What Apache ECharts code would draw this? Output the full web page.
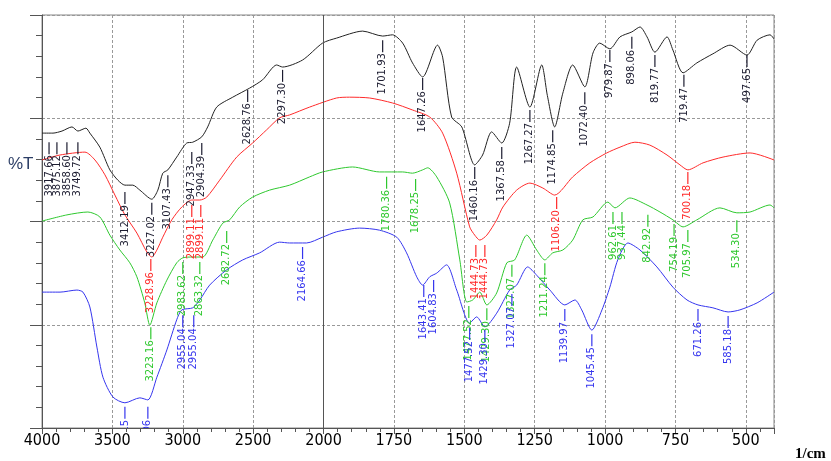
<!DOCTYPE html>
<html>
<head>
<meta charset="utf-8">
<script src="https://cdn.jsdelivr.net/npm/echarts@6/dist/echarts.min.js"></script>
<style>
  html, body { margin: 0; padding: 0; background: #fff; }
  #chart { width: 831px; height: 461px; }
</style>
</head>
<body>
<div id="chart"></div>
<script>
// 光谱数据 (波数 1/cm, 透过率 %T)
const blackWn = [4000,3922,3858,3787,3745,3688,3660,3589,3518,3461,3411,3355,3305,3220,3177,3142,3106,3043,2972,2929,2865,2823,2759,2645,2525,2433,2333,2291,2149,2007,1954,1861,1790,1755,1719,1684,1648,1595,1577,1545,1509,1463,1435,1403,1367,1339,1314,1267,1225,1205,1179,1150,1115,1072,1043,1019,983,947,905,876,851,823,780,759,723,674,617,556,496,460,414,400]
const blackT = [71.4,71.4,71.9,72.9,71.9,72.6,71.4,68.0,62.5,60.0,58.8,58.8,57.6,55.4,57.6,61.7,62.5,65.6,69.0,69.2,70.5,72.9,77.7,80.1,82.3,84.3,87.9,87.4,89.1,93.2,94.4,96.1,94.9,95.2,93.2,88.4,85.0,92.7,89.8,75.3,72.9,63.7,66.1,71.7,69.0,73.8,87.4,77.7,87.9,80.5,72.9,81.1,87.9,82.6,90.8,93.2,91.8,94.7,95.9,97.1,94.7,91.0,94.7,91.5,86.0,88.4,90.6,92.7,90.3,93.9,95.2,94.2]

const redWn = [4000,3872,3695,3624,3553,3482,3411,3326,3255,3220,3184,3142,3078,3007,2936,2879,2830,2738,2617,2504,2404,2312,2241,2099,1954,1908,1836,1755,1684,1623,1577,1527,1481,1463,1445,1420,1385,1363,1314,1267,1221,1179,1115,1054,994,947,894,841,780,734,706,652,581,485,400]
const redT = [64.9,66.1,66.8,64.9,61.3,56.4,51.6,47.2,42.6,41.4,43.1,46.2,50.4,53.5,55.2,55.2,55.9,60.0,65.6,69.0,72.2,75.1,75.8,77.7,79.9,80.1,79.9,78.7,77.0,75.3,71.4,61.7,48.7,46.7,45.5,46.7,50.4,53.5,57.6,59.3,58.1,56.4,60.8,64.2,66.6,68.0,69.2,68.5,66.1,63.7,62.5,64.2,65.6,66.6,64.9]

const greenWn = [4000,3823,3674,3589,3518,3447,3376,3326,3270,3234,3184,3113,3043,3000,2929,2858,2787,2716,2667,2596,2504,2383,2241,2099,2007,1897,1801,1719,1684,1648,1630,1598,1552,1516,1491,1470,1445,1420,1385,1349,1321,1278,1243,1214,1186,1150,1115,1079,1043,990,965,912,851,805,759,723,674,592,532,485,414,400]
const greenT = [50.1,51.6,52.3,51.1,46.7,43.1,40.0,36.6,30.3,24.9,30.3,35.8,40.0,41.2,41.4,41.4,45.5,49.6,50.4,53.5,55.9,57.6,58.8,60.8,62.0,63.2,62.0,62.0,61.7,62.5,63.0,60.8,54.5,40.7,30.5,31.0,32.9,29.8,32.7,40.0,40.7,46.7,43.1,40.7,42.4,43.1,45.5,50.4,51.1,54.7,53.3,55.7,54.0,52.3,50.4,48.7,50.4,53.3,52.1,52.3,54.0,53.3]

const blueWn = [4000,3872,3752,3709,3660,3610,3567,3496,3411,3305,3248,3184,3113,3043,3007,2929,2879,2809,2688,2574,2454,2312,2241,2121,2007,1954,1872,1801,1740,1705,1669,1648,1623,1598,1563,1527,1481,1456,1427,1385,1339,1314,1275,1243,1196,1143,1107,1083,1047,1011,983,955,919,876,816,759,709,670,617,563,521,460,400]
const blueT = [32.9,32.9,33.4,32.9,29.3,19.6,12.3,7.5,6.1,7.3,6.8,12.3,18.9,26.2,28.6,29.1,31.0,34.6,38.3,40.7,42.4,45.0,44.8,44.8,46.2,47.5,48.4,47.9,46.2,42.4,36.6,34.6,36.6,37.5,39.5,33.4,25.4,26.9,24.5,27.8,33.4,34.6,39.0,37.0,33.4,29.8,31.0,28.6,23.7,28.6,34.1,40.7,44.8,43.1,39.0,34.1,31.0,29.8,29.1,28.1,28.6,30.3,32.9]

// 峰标注 [位置, %T, 文本]
const blackPeaks = [[3950,69.7,'3917.66'],[3894,69.7,'3875.12'],[3823,69.7,'3858.60'],[3745,69.7,'3749.72'],[3411,57.6,'3412.19'],[3220,55.0,'3227.02'],[3106,61.7,'3107.43'],[2936,67.3,'2947.33'],[2865,69.5,'2904.39'],[2539,82.3,'2628.76'],[2291,87.2,'2297.30'],[1790,94.4,'1701.93'],[1648,85.2,'1647.26'],[1463,63.7,'1460.16'],[1367,68.5,'1367.58'],[1267,77.5,'1267.27'],[1186,72.6,'1174.85'],[1072,81.8,'1072.40'],[983,92.0,'979.87'],[905,95.2,'898.06'],[823,90.8,'819.77'],[720,86.0,'719.47'],[496,90.8,'497.65']]
const redPeaks = [[3227,41.4,'3228.96'],[2936,54.5,'2899.11'],[2872,54.5,'2899.11'],[1459,44.8,'1444.73'],[1427,44.8,'1444.73'],[1172,56.4,'1106.20'],[706,62.5,'700.18']]
const greenPeaks = [[3227,24.9,'3223.16'],[3000,40.7,'2983.62'],[2879,40.7,'2863.32'],[2688,48.2,'2682.72'],[1776,61.3,'1780.36'],[1673,60.8,'1678.25'],[1484,30.0,'1477.52'],[1420,29.5,'1429.30'],[1331,40.0,'1327.07'],[1214,40.4,'1211.24'],[972,52.8,'962.61'],[940,52.8,'937.44'],[848,52.1,'842.92'],[755,49.9,'754.19'],[706,48.4,'705.97'],[532,50.8,'534.30']]
const bluePeaks = [[3411,5.6,'3412.15'],[3248,5.6,'3227.06'],[3000,27.8,'2955.04'],[2922,27.8,'2955.04'],[2149,44.3,'2164.66'],[1644,35.1,'1643.41'],[1609,36.3,'1604.83'],[1481,24.7,'1477.52'],[1427,24.2,'1429.30'],[1331,32.9,'1327.07'],[1143,29.3,'1139.97'],[1047,23.2,'1045.45'],[670,29.3,'671.26'],[563,27.6,'585.18']]

// 2000 以下刻度放大一倍
const toT = w => w >= 2000 ? (4000 - w) / 2 : 3000 - w
const fromT = t => t <= 1000 ? 4000 - 2 * t : 3000 - t

function zip(wn, tr) {
  return wn.map((w, i) => [toT(w), tr[i]])
}

function lineSeries(name, wn, tr, color) {
  return {
    name: name,
    type: 'line',
    data: zip(wn, tr),
    showSymbol: false,
    smooth: 0.25,
    lineStyle: { color: color, width: 1 },
    z: 3
  }
}

function peakSeries(list, color) {
  return {
    type: 'custom',
    clip: true,
    silent: true,
    z: 4,
    data: list.map(p => [toT(p[0]), p[1]]),
    renderItem: function (params, api) {
      const pt = api.coord([api.value(0), api.value(1)])
      const text = list[params.dataIndex][2]
      return {
        type: 'group',
        children: [
          { type: 'line', shape: { x1: pt[0], y1: pt[1] + 2, x2: pt[0], y2: pt[1] + 14 },
            style: { stroke: color, lineWidth: 1.2 } },
          { type: 'text', x: pt[0], y: pt[1] + 15, rotation: Math.PI / 2,
            style: { text: text, fill: color, font: '10px "DejaVu Sans"', align: 'right', verticalAlign: 'middle' } }
        ]
      }
    }
  }
}

const myChart = echarts.init(document.getElementById('chart'))
const black = lineSeries('black', blackWn, blackT, '#222')
black.markLine = {
  silent: true,
  symbol: 'none',
  label: { show: false },
  lineStyle: { color: '#555', type: 'solid', width: 1 },
  data: [{ xAxis: toT(2000) }]
}

const option = {
  animation: false,
  grid: { left: 42, right: 57, top: 15, bottom: 33, show: true, borderColor: '#888', borderWidth: 1 },
  xAxis: {
    type: 'value',
    min: 0,
    max: 2600,
    interval: 250,
    axisLine: { lineStyle: { color: '#555' } },
    axisTick: { length: 6, lineStyle: { color: '#555' } },
    minorTick: { show: true, splitNumber: 5, length: 4, lineStyle: { color: '#555' } },
    axisLabel: {
      formatter: v => String(fromT(v)),
      showMaxLabel: false,
      color: '#000',
      fontFamily: '"Liberation Sans Narrow", "DejaVu Sans Condensed", sans-serif',
      fontSize: 16,
      margin: 5
    },
    splitLine: { lineStyle: { color: '#999', type: [3, 2] } }
  },
  yAxis: {
    type: 'value',
    min: 0,
    max: 100,
    interval: 25,
    axisLine: { show: true, lineStyle: { color: '#555' } },
    axisTick: { show: true, length: 12, lineStyle: { color: '#555' } },
    minorTick: { show: true, splitNumber: 5, length: 6, lineStyle: { color: '#555' } },
    axisLabel: { show: false },
    splitLine: { lineStyle: { color: '#999', type: [3, 2] } }
  },
  graphic: [
    { type: 'text', left: 8, top: 156, style: { text: '%T', font: '17px "Liberation Sans"', fill: '#2c3e66' } },
    { type: 'text', left: 795, top: 447, style: { text: '1/cm', font: 'bold 15px "Liberation Serif"', fill: '#000' } }
  ],
  series: [
    black,
    lineSeries('red', redWn, redT, '#ff2a2a'),
    lineSeries('green', greenWn, greenT, '#2ec82e'),
    lineSeries('blue', blueWn, blueT, '#3535ee'),
    peakSeries(blackPeaks, '#1c1c30'),
    peakSeries(redPeaks, '#ff2a2a'),
    peakSeries(greenPeaks, '#2ec82e'),
    peakSeries(bluePeaks, '#3535ee')
  ]
}
myChart.setOption(option)
</script>
</body>
</html>
